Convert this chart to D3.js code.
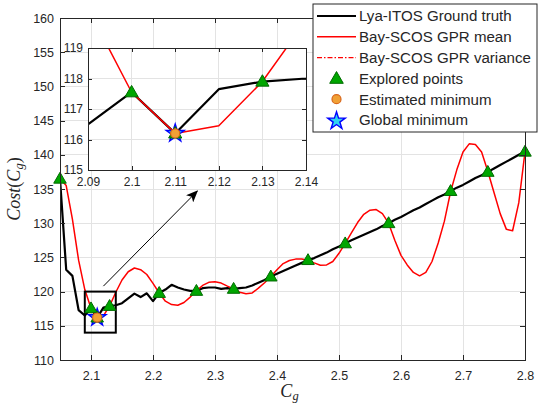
<!DOCTYPE html>
<html lang="en">
<head>
<meta charset="UTF-8">
<script src="https://d3js.org/d3.v7.min.js"></script>
<title>Cost vs Cg</title>
<style>
  body { margin: 0; background: #fff; }
  svg text { font-family: "Liberation Sans", Arial, sans-serif; fill: #262626; }
  .axis path, .axis line { stroke: #262626; stroke-width: 1; fill: none; shape-rendering: crispEdges; }
  .grid line { stroke: #e3e3e3; stroke-width: 1; shape-rendering: crispEdges; }
  .mathlabel { font-family: "Liberation Serif", "DejaVu Serif", serif; font-style: italic; }
</style>
</head>
<body>
<script>
// sampled Cg values (ground truth + GPR mean evaluated on the same grid)
var cg = [2.05, 2.06, 2.07, 2.08, 2.09, 2.10, 2.11, 2.12, 2.13, 2.14,
          2.15, 2.16, 2.17, 2.18, 2.19, 2.20, 2.21, 2.22, 2.23, 2.24,
          2.25, 2.26, 2.27, 2.28, 2.29, 2.30, 2.31, 2.32, 2.33, 2.34,
          2.35, 2.36, 2.37, 2.38, 2.39, 2.40, 2.41, 2.42, 2.43, 2.44,
          2.45, 2.46, 2.47, 2.48, 2.49, 2.50, 2.51, 2.52, 2.53, 2.54,
          2.55, 2.56, 2.57, 2.58, 2.59, 2.60, 2.61, 2.62, 2.63, 2.64,
          2.65, 2.66, 2.67, 2.68, 2.69, 2.70, 2.71, 2.72, 2.73, 2.74,
          2.75, 2.76, 2.77, 2.78, 2.79, 2.80]

var groundTruth = [136.5, 123.2, 122.3, 117.3, 116.5, 117.55, 116.2, 117.65, 117.9, 118.0,
          118.3, 119.0, 119.7, 119.2, 119.75, 118.6, 119.8, 120.3, 121.0, 120.6,
          120.3, 120.1, 120.1, 120.5, 120.6, 120.6, 120.4, 120.5, 120.4, 120.5,
          120.6, 120.9, 121.3, 121.7, 122.2, 122.6, 123.0, 123.4, 123.8, 124.2,
          124.6, 124.9, 125.3, 125.7, 126.2, 126.6, 127.05, 127.5, 127.9, 128.3,
          128.7, 129.1, 129.6, 130.0, 130.5, 130.9, 131.4, 131.9, 132.3, 132.8,
          133.3, 133.8, 134.2, 134.7, 135.2, 135.6, 136.1, 136.6, 137.0, 137.5,
          138.0, 138.5, 139.0, 139.5, 140.0, 140.45]

var gprMean = [136.5, 135.5, 130.6, 124.6, 120.3, 117.55, 116.2, 116.45, 117.9, 119.9,
          121.7, 122.9, 123.45, 123.2, 122.5, 121.2, 119.8, 118.6, 118.1, 118.0,
          118.4, 119.2, 120.1, 120.9, 121.35, 121.45, 121.25, 120.8, 120.4, 119.9,
          119.7, 119.8, 120.5, 121.3, 122.2, 123.2, 124.1, 124.55, 124.75, 124.75,
          124.6, 124.2, 123.85, 123.9, 124.4, 125.6, 127.05, 128.6, 130.1, 131.3,
          131.9, 132.0, 131.4, 130.0, 127.5, 125.3, 123.9, 122.8, 122.3, 122.8,
          124.4, 127.1, 130.3, 134.6, 137.8, 140.4, 141.6, 141.5, 140.4, 137.6,
          134.5, 131.4, 129.1, 128.9, 133.0, 140.45]

var exploredCg = [2.05, 2.10, 2.11, 2.13, 2.21, 2.27, 2.33, 2.39, 2.45, 2.51, 2.58, 2.68, 2.74, 2.80]
var exploredCost = [136.5, 117.55, 116.2, 117.9, 119.8, 120.1, 120.4, 122.2, 124.6, 127.05, 130.0, 134.7, 137.5, 140.45]

var estimatedMin = [2.11, 116.2]
var globalMin = [2.11, 116.2]

var xTicks = [2.1, 2.2, 2.3, 2.4, 2.5, 2.6, 2.7, 2.8]
var yTicks = [110, 115, 120, 125, 130, 135, 140, 145, 150, 155, 160]
var insetXTicks = [2.09, 2.1, 2.11, 2.12, 2.13, 2.14]
var insetYTicks = [115, 116, 117, 118, 119]

var zoomBox = { x: [2.09, 2.14], y: [114, 120] }
var arrowFrom = [2.12, 120.8], arrowTo = [2.2715, 134.7]

var legendLabels = ["Lya-ITOS Ground truth", "Bay-SCOS GPR mean", "Bay-SCOS GPR variance",
                    "Explored points", "Estimated minimum", "Global minimum"]

var width = 539, height = 409
var plot = { left: 60, right: 525, top: 18, bottom: 360 }
var inset = { left: 88, right: 306, top: 48, bottom: 170 }

var gtData = cg.map(function (d, i) { return [d, groundTruth[i]] })
var meanData = cg.map(function (d, i) { return [d, gprMean[i]] })
var explored = exploredCg.map(function (d, i) { return [d, exploredCost[i]] })

var svg = d3.select("body").append("svg")
    .attr("width", width)
    .attr("height", height)

var defs = svg.append("defs")

var triFill = "#00a600", triStroke = "#006b00"
var fmt = d3.format("~g")

function drawPanel(g, xs, ys, xt, yt, clipId, opts) {
    // grid
    var grid = g.append("g").attr("class", "grid")
    grid.selectAll(".gx").data(xt).enter().append("line")
        .attr("x1", xs).attr("x2", xs)
        .attr("y1", ys.range()[0]).attr("y2", ys.range()[1])
    grid.selectAll(".gy").data(yt).enter().append("line")
        .attr("y1", ys).attr("y2", ys)
        .attr("x1", xs.range()[0]).attr("x2", xs.range()[1])

    defs.append("clipPath").attr("id", clipId).append("rect")
        .attr("x", xs.range()[0]).attr("y", ys.range()[1])
        .attr("width", xs.range()[1] - xs.range()[0])
        .attr("height", ys.range()[0] - ys.range()[1])

    var line = d3.line().x(function (d) { return xs(d[0]) }).y(function (d) { return ys(d[1]) })
    var lines = g.append("g").attr("clip-path", "url(#" + clipId + ")")
    lines.append("path").datum(gtData)
        .attr("d", line).attr("fill", "none")
        .attr("stroke", "#000").attr("stroke-width", 2.2)
        .attr("stroke-linejoin", "round")
    lines.append("path").datum(meanData)
        .attr("d", line).attr("fill", "none")
        .attr("stroke", "#ff0000").attr("stroke-width", 1.5)
        .attr("stroke-linejoin", "round")

    if (opts.extra) opts.extra(g, xs, ys)

    var mk = g.append("g")
    // global minimum star (sits underneath)
    mk.append("path")
        .attr("d", d3.symbol().type(d3.symbolStar).size(opts.starSize)())
        .attr("transform", "translate(" + xs(globalMin[0]) + "," + ys(globalMin[1]) + ")")
        .attr("fill", "#2fd3f0").attr("stroke", "#0000ff").attr("stroke-width", 1.4)
    mk.selectAll(".tri").data(explored).enter().append("path")
        .attr("d", d3.symbol().type(d3.symbolTriangle).size(opts.triSize)())
        .attr("transform", function (d) { return "translate(" + xs(d[0]) + "," + (ys(d[1]) + 0.8) + ")" })
        .attr("fill", triFill).attr("stroke", triStroke).attr("stroke-width", 1)
    mk.append("circle")
        .attr("cx", xs(estimatedMin[0])).attr("cy", ys(estimatedMin[1]))
        .attr("r", opts.circR)
        .attr("fill", "#f0a035").attr("stroke", "#d8661a").attr("stroke-width", 1.2)

    // axes box
    var x0 = xs.range()[0], x1 = xs.range()[1], y0 = ys.range()[0], y1 = ys.range()[1]
    var tk = opts.tick
    g.append("g").attr("class", "axis").attr("transform", "translate(0," + y0 + ")")
        .call(d3.axisBottom(xs).tickValues(xt).tickSizeInner(-tk).tickSizeOuter(0).tickPadding(opts.xPad).tickFormat(fmt))
        .selectAll("text").attr("font-size", opts.font + "px")
    g.append("g").attr("class", "axis").attr("transform", "translate(" + x0 + ",0)")
        .call(d3.axisLeft(ys).tickValues(yt).tickSizeInner(-tk).tickSizeOuter(0).tickPadding(opts.yPad).tickFormat(fmt))
        .selectAll("text").attr("font-size", opts.font + "px")
    g.append("g").attr("class", "axis").attr("transform", "translate(0," + y1 + ")")
        .call(d3.axisTop(xs).tickValues(xt).tickSizeInner(-tk).tickSizeOuter(0).tickFormat(""))
    g.append("g").attr("class", "axis").attr("transform", "translate(" + x1 + ",0)")
        .call(d3.axisRight(ys).tickValues(yt).tickSizeInner(-tk).tickSizeOuter(0).tickFormat(""))
    g.selectAll(".axis text").attr("font-family", "Liberation Sans, Arial, sans-serif")
}

// main axes
var xScale = d3.scaleLinear().domain([2.05, 2.8]).range([plot.left, plot.right])
var yScale = d3.scaleLinear().domain([110, 160]).range([plot.bottom, plot.top])

var mainG = svg.append("g")
drawPanel(mainG, xScale, yScale, xTicks, yTicks, "clipMain", {
    tick: 5, font: 12.5, xPad: 11, yPad: 6,
    starSize: 95, triSize: 68, circR: 4.6,
    extra: function (g, xs, ys) {
        // zoom rectangle
        g.append("rect")
            .attr("x", xs(zoomBox.x[0])).attr("y", ys(zoomBox.y[1]))
            .attr("width", xs(zoomBox.x[1]) - xs(zoomBox.x[0]))
            .attr("height", ys(zoomBox.y[0]) - ys(zoomBox.y[1]))
            .attr("fill", "none").attr("stroke", "#000").attr("stroke-width", 2)
    }
})

// arrow towards inset
defs.append("marker").attr("id", "ahead")
    .attr("viewBox", "0 0 12 10").attr("refX", 11).attr("refY", 5)
    .attr("markerWidth", 12).attr("markerHeight", 10)
    .attr("markerUnits", "userSpaceOnUse").attr("orient", "auto")
    .append("path").attr("d", "M0,0 L12,5 L0,10 L3,5 Z").attr("fill", "#000")
svg.append("line")
    .attr("x1", xScale(arrowFrom[0])).attr("y1", yScale(arrowFrom[1]))
    .attr("x2", xScale(arrowTo[0])).attr("y2", yScale(arrowTo[1]))
    .attr("stroke", "#000").attr("stroke-width", 1)
    .attr("marker-end", "url(#ahead)")

// axis labels
var yl = svg.append("text").attr("class", "mathlabel")
    .attr("transform", "translate(20," + ((plot.top + plot.bottom) / 2) + ") rotate(-90)")
    .attr("text-anchor", "middle").attr("font-size", "18px")
yl.append("tspan").text("Cost")
yl.append("tspan").attr("font-style", "normal").text("(")
yl.append("tspan").text("C")
yl.append("tspan").attr("font-size", "12.5px").attr("dy", 3).text("g")
yl.append("tspan").attr("font-style", "normal").attr("dy", -3).text(")")

var xl = svg.append("text").attr("class", "mathlabel")
    .attr("x", (plot.left + plot.right) / 2 - 3).attr("y", 397)
    .attr("text-anchor", "middle").attr("font-size", "18px")
xl.append("tspan").text("C")
xl.append("tspan").attr("font-size", "12.5px").attr("dy", 3).text("g")

// inset axes
var ixScale = d3.scaleLinear().domain([2.09, 2.14]).range([inset.left, inset.right])
var iyScale = d3.scaleLinear().domain([115, 119]).range([inset.bottom, inset.top])
var insetG = svg.append("g")
insetG.append("rect")
    .attr("x", inset.left).attr("y", inset.top)
    .attr("width", inset.right - inset.left).attr("height", inset.bottom - inset.top)
    .attr("fill", "#fff")
drawPanel(insetG, ixScale, iyScale, insetXTicks, insetYTicks, "clipInset", {
    tick: 4, font: 12, xPad: 7, yPad: 5,
    starSize: 100, triSize: 75, circR: 4.6
})

// legend
var lg = svg.append("g")
lg.append("rect").attr("x", 313).attr("y", 4).attr("width", 224).attr("height", 128)
    .attr("fill", "#fff").attr("stroke", "#262626").attr("stroke-width", 1)
var rowY = function (i) { return 16 + i * 20.8 }
var sx1 = 317, sx2 = 356, smid = (sx1 + sx2) / 2
lg.selectAll(".lt").data(legendLabels).enter().append("text")
    .attr("x", 359).attr("y", function (d, i) { return rowY(i) })
    .attr("dy", "0.36em").attr("font-size", "15.1px").text(function (d) { return d })
lg.append("line").attr("x1", sx1).attr("x2", sx2).attr("y1", rowY(0)).attr("y2", rowY(0))
    .attr("stroke", "#000").attr("stroke-width", 2.2)
lg.append("line").attr("x1", sx1).attr("x2", sx2).attr("y1", rowY(1)).attr("y2", rowY(1))
    .attr("stroke", "#ff0000").attr("stroke-width", 1.5)
lg.append("line").attr("x1", sx1).attr("x2", sx2).attr("y1", rowY(2)).attr("y2", rowY(2))
    .attr("stroke", "#ff0000").attr("stroke-width", 1.2).attr("stroke-dasharray", "5,2,1.5,2")
lg.append("path").attr("d", d3.symbol().type(d3.symbolTriangle).size(80)())
    .attr("transform", "translate(" + smid + "," + (rowY(3) + 1) + ")")
    .attr("fill", triFill).attr("stroke", triStroke)
lg.append("circle").attr("cx", smid).attr("cy", rowY(4)).attr("r", 4.5)
    .attr("fill", "#f0a035").attr("stroke", "#d8661a").attr("stroke-width", 1.2)
lg.append("path").attr("d", d3.symbol().type(d3.symbolStar).size(95)())
    .attr("transform", "translate(" + smid + "," + (rowY(5) + 1) + ")")
    .attr("fill", "#2fd3f0").attr("stroke", "#0000ff").attr("stroke-width", 1.4)
</script>
</body>
</html>
